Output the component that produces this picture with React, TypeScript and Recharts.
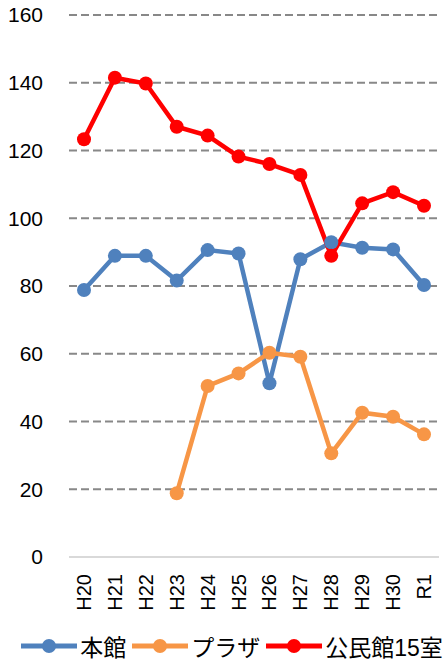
import { LineChart, Line, XAxis, YAxis, CartesianGrid, Legend } from 'recharts';

const years = ['H20', 'H21', 'H22', 'H23', 'H24', 'H25', 'H26', 'H27', 'H28', 'H29', 'H30', 'R1'];
const honkan = [78.8, 88.9, 88.9, 81.6, 90.6, 89.6, 51.3, 87.9, 92.9, 91.3, 90.8, 80.3];
const plaza = [null, null, null, 18.8, 50.5, 54.2, 60.3, 59.1, 30.6, 42.6, 41.4, 36.2];
const kominkan = [123.3, 141.5, 139.8, 127.0, 124.4, 118.2, 116.0, 112.8, 88.9, 104.4, 107.7, 103.7];
const yTicks = [0, 20, 40, 60, 80, 100, 120, 140, 160];

const seriesInfo = [
    { key: 'honkan', name: '本館', color: '#4F81BD' },
    { key: 'plaza', name: 'プラザ', color: '#F79646' },
    { key: 'kominkan', name: '公民館15室', color: '#FF0000' },
];

const data = years.map((y, i) => ({
    year: y,
    honkan: honkan[i],
    plaza: plaza[i],
    kominkan: kominkan[i],
}));

const FONT = '"Liberation Sans", Arial, "Noto Sans CJK JP", sans-serif';

function XTick({ x, y, payload }: any) {
    return (
        <g transform={`translate(${x},${y})`}>
            <text
                transform="rotate(-90)"
                x={-15}
                y={0}
                textAnchor="end"
                dominantBaseline="central"
                fontSize={20}
                fill="#000"
                fontFamily={FONT}
            >
                {payload.value}
            </text>
        </g>
    );
}

function LegendContent() {
    return (
        <div
            style={{
                height: 45,
                paddingTop: 12,
                paddingLeft: 16,
                boxSizing: 'border-box',
                display: 'flex',
                justifyContent: 'center',
                alignItems: 'center',
                fontFamily: FONT,
                fontSize: 23,
                color: '#000',
                whiteSpace: 'nowrap',
            }}
        >
            {seriesInfo.map((s, i) => (
                <div
                    key={s.key}
                    style={{ display: 'flex', alignItems: 'center', marginRight: i < seriesInfo.length - 1 ? 6 : 0 }}
                >
                    <svg width={56} height={16} style={{ marginRight: 3 }}>
                        <line x1={0} y1={8} x2={56} y2={8} stroke={s.color} strokeWidth={5} />
                        <circle cx={28} cy={8} r={7} fill={s.color} />
                    </svg>
                    <span>{s.name}</span>
                </div>
            ))}
        </div>
    );
}

export default function App() {
    return (
        <div style={{ position: 'absolute', left: 0, top: 0, width: 444, height: 662, background: '#fff' }}>
            <LineChart
                width={444}
                height={662}
                data={data}
                margin={{ top: 15, right: 5, left: 9, bottom: 0 }}
            >
                <CartesianGrid
                    vertical={false}
                    horizontalValues={[20, 40, 60, 80, 100, 120, 140, 160]}
                    stroke="#888888"
                    strokeWidth={2}
                    strokeDasharray="8 4"
                />
                <XAxis
                    dataKey="year"
                    height={60}
                    interval={0}
                    padding={{ left: 15, right: 15 }}
                    tickLine={false}
                    tickSize={0}
                    axisLine={{ stroke: '#d9d9d9', strokeWidth: 2 }}
                    tick={<XTick />}
                />
                <YAxis
                    domain={[0, 160]}
                    ticks={yTicks}
                    width={60}
                    tickLine={false}
                    axisLine={false}
                    tickSize={0}
                    tickMargin={26}
                    tick={{ fill: '#000', fontSize: 21, fontFamily: FONT }}
                />
                <Legend verticalAlign="bottom" content={<LegendContent />} />
                {seriesInfo.map((s) => (
                    <Line
                        key={s.key}
                        type="linear"
                        dataKey={s.key}
                        name={s.name}
                        stroke={s.color}
                        strokeWidth={4.5}
                        dot={{ r: 7, fill: s.color, stroke: 'none' }}
                        activeDot={false}
                        connectNulls={false}
                        isAnimationActive={false}
                    />
                ))}
            </LineChart>
        </div>
    );
}
